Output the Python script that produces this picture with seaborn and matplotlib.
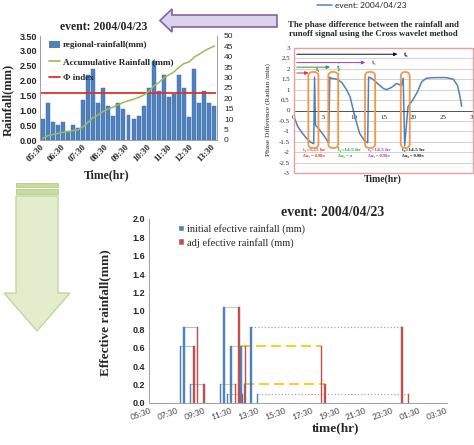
import numpy as np
import matplotlib
matplotlib.use("Agg")
import matplotlib.pyplot as plt
import seaborn as sns
from matplotlib.patches import Polygon, Rectangle, FancyBboxPatch, Patch
from matplotlib.lines import Line2D

sns.set_theme(style="white")
plt.rcParams['font.family'] = ['DejaVu Sans']

SERIF = ['Liberation Serif', 'DejaVu Serif']
SANS = ['Liberation Sans', 'DejaVu Sans']
CAL = ['Lato', 'DejaVu Sans']

# ---- data: regional rainfall (top left) ----
rain = [0.72, 1.25, 0.62, 0.52, 0.60, 0.30, 0.52, 0.40, 1.35, 2.18, 2.38, 1.25,
        1.75, 1.13, 0.82, 1.25, 1.03, 0.85, 0.72, 0.82, 1.13, 1.75, 2.65, 1.65,
        2.18, 1.45, 1.55, 2.18, 1.75, 0.78, 2.38, 1.25, 1.65, 1.25, 1.13]
acc_rain = [0.7, 2.0, 2.6, 3.1, 3.7, 4.0, 4.5, 4.9, 6.3, 8.5, 10.8, 12.1, 13.8,
            15.0, 15.8, 17.0, 18.1, 18.9, 19.6, 20.5, 21.6, 23.3, 26.0, 27.6,
            29.8, 31.3, 32.8, 35.0, 36.8, 37.5, 39.9, 41.2, 42.8, 44.1, 45.2]
phi_index = 1.57
top_ticks = ['05:30', '06:30', '07:30', '08:30', '09:30', '10:30', '11:30', '12:30', '13:30']

# ---- data: phase difference (top right) ----
phase_t = [0, 0.6, 1.3, 2.0, 2.7, 3.3, 3.45, 3.6, 4.2, 5.0, 5.8, 6.0, 6.2, 7.2, 8.0,
           8.8, 9.4, 10.2, 11.0, 11.8, 12.35, 12.5, 13.0, 14.0, 15.0, 15.5, 16.3,
           17.2, 18.0, 18.3, 18.55, 19.1, 19.9, 20.7, 21.4, 22.2, 23.5, 25.5, 26.7,
           27.4, 27.8, 28.1]
phase_v = [-0.3, -0.75, -1.05, -1.3, -1.5, -1.6, 1.6, -0.7, -0.9, -1.2, -1.55, 1.6,
           1.55, 1.5, 1.35, 1.0, 0.66, -0.3, -1.1, -1.45, -1.55, 1.6, 1.55, 1.3,
           1.05, 1.0, 1.1, 1.3, 1.2, 1.55, -1.7, 0.18, 0.5, 0.9, 1.38, 1.55, 1.58,
           1.58, 1.5, 1.2, 0.7, 0.2]
lag_end = [2.9, 6.5, 12.4, 17.8]          # arrow ends t1..t4
lag_names = ['t\u2081', 't\u2082', 't\u2083', 't\u2084']
lag_text = ['t\u2081=3.25 hr', 't\u2082=14.5 hr', 't\u2083=14.5 hr', 't\u2084=14.5 hr']
dphi_text = ['\u0394\u03c6\u2081 = 0.98\u03c0', '\u0394\u03c6\u2082 = \u03c0',
             '\u0394\u03c6\u2083 = 0.98\u03c0', '\u0394\u03c6\u2084 = 0.98\u03c0']
box_ranges = [(2.4, 4.1), (5.75, 7.4), (11.9, 13.6), (17.9, 19.4)]

# ---- data: effective rainfall (bottom), hours after 05:30 ----
init_t = [2.25, 2.5, 3.0, 5.25, 5.5, 5.75, 6.0, 6.75, 7.0, 7.5, 8.0]
adj_t = [3.25, 3.5, 4.0, 6.35, 6.6, 6.85, 7.1, 12.75, 13.0, 18.75, 19.25]
eff_h = [0.62, 0.83, 0.21, 0.21, 1.04, 0.10, 0.62, 0.62, 0.21, 0.83, 0.10]
link_group = [0, 0, 0, 1, 1, 1, 1, 2, 2, 3, 3]
bottom_ticks = ['05:30', '07:30', '09:30', '11:30', '13:30', '15:30', '17:30',
                '19:30', '21:30', '23:30', '01:30', '03:30']

W, H = 474, 445
fig = plt.figure(figsize=(W / 100, H / 100), dpi=100)


def box(l, t, r, b):
    return [l / W, 1 - b / H, (r - l) / W, (b - t) / H]


def fp(x, y):
    return (x / W, 1 - y / H)


# ================= top left =================
ax1 = fig.add_axes(box(40, 36, 217, 140))
n = len(rain)
sns.barplot(x=np.arange(n), y=rain, color='#4F81BD', saturation=1, width=0.78,
            ax=ax1, edgecolor='#3A6AA5', linewidth=0.3)
ax1.hlines(phi_index, -0.4, n - 0.6, color='#E0302A', lw=1.3, zorder=5)
ax1.set_xlim(-0.5, n - 0.5)
ax1.set_ylim(0, 3.5)
ax1.set_yticks(np.arange(0, 3.51, 0.5))
ax1.set_yticklabels([f'{v:.2f}' for v in np.arange(0, 3.51, 0.5)],
                    fontfamily=SANS, fontweight='bold', fontsize=6.5)
ax1.set_xticks(np.linspace(-0.5, 33.2, 9))
ax1.set_xticklabels(top_ticks, rotation=45, ha='right', rotation_mode='anchor',
                    fontfamily=SERIF, fontweight='bold', fontsize=6.5)
ax1.tick_params(axis='both', length=0, pad=2)
ax1.set_xlabel('')
ax1.set_ylabel('')
ax1b = ax1.twinx()
ax1b.plot(np.arange(n), acc_rain, color='#9BBB59', lw=1.1)
ax1b.set_ylim(0, 50)
ax1b.set_yticks(np.arange(0, 51, 5))
ax1b.set_yticklabels([str(v) for v in range(0, 51, 5)], fontfamily=SANS, fontsize=6)
ax1b.tick_params(axis='y', length=0, pad=5)
for a in (ax1, ax1b):
    a.spines['top'].set_visible(False)
    for s in ('left', 'right', 'bottom'):
        a.spines[s].set_color('#A0A0A0')
        a.spines[s].set_linewidth(0.6)

leg_handles = [Patch(facecolor='#4F81BD', edgecolor='none'),
               Line2D([], [], color='#9BBB59', lw=1.2),
               Line2D([], [], color='#E0302A', lw=1.3)]
ax1.legend(leg_handles, ['regional-rainfall(mm)', 'Accumulative Rainfall (mm)', '\u03a6 index'],
           loc='upper left', bbox_to_anchor=(0.03, 0.99), frameon=False,
           prop=dict(family=SERIF, weight='bold', size=6.6), handlelength=1.2,
           handleheight=0.8, handletextpad=0.3, labelspacing=0.85, borderaxespad=0)
fig.text(*fp(104, 27), 'event: 2004/04/23', ha='center', va='center',
         family=SERIF, weight='bold', fontsize=8.5)
fig.text(*fp(8, 100), 'Rainfall(mm)', rotation=90, ha='center', va='center',
         family=SERIF, weight='bold', fontsize=9)
fig.text(*fp(107, 175), 'Time(hr)', ha='center', va='center',
         family=SERIF, weight='bold', fontsize=8.5)

# ================= top right =================
ax2 = fig.add_axes(box(294, 48, 473, 173))
sns.lineplot(x=phase_t, y=phase_v, ax=ax2, color='#4F81BD', lw=1.1, sort=False,
             estimator=None, label='event: 2004/04/23')
ax2.spines['bottom'].set_position(('data', 0))
ax2.set_xlim(0, 30)
ax2.set_ylim(-3, 3)
yt = np.arange(-3, 3.01, 0.5)
ax2.set_yticks(yt)
ax2.set_yticklabels([f'{v:g}' for v in yt], fontfamily=SERIF, fontsize=5)
ax2.set_xticks(np.arange(0, 31, 5))
ax2.set_xticklabels([str(v) for v in range(0, 31, 5)], fontfamily=SERIF, fontsize=5)
ax2.yaxis.grid(True, color='#BFBFBF', lw=0.5)
ax2.spines['bottom'].set_color('#404040')
ax2.spines['bottom'].set_linewidth(0.6)
for s in ('top', 'left', 'right'):
    ax2.spines[s].set_visible(False)
ax2.tick_params(axis='x', length=2, width=0.5, color='#404040', pad=1)
ax2.tick_params(axis='y', length=0, pad=3)
ax2.add_patch(Rectangle((0, 0), 1, 1, transform=ax2.transAxes, fill=False,
                        edgecolor='#E8A0A0', lw=1.0, clip_on=False, zorder=6))
lag_colors = ['#E03030', '#20A040', '#9040C0', '#111111']
lag_y = [1.8, 2.08, 2.3, 2.7]
for k in range(4):
    ax2.annotate('', xy=(lag_end[k], lag_y[k]), xytext=(0, lag_y[k]),
                 arrowprops=dict(arrowstyle='-|>', color=lag_colors[k], lw=0.7,
                                 mutation_scale=5))
    ax2.text(lag_end[k] + 0.7, lag_y[k] + (0.15 if k == 0 else 0), lag_names[k],
             color=lag_colors[k], fontsize=5, va='center', family=SERIF, weight='bold')
    lo, hi = box_ranges[k]
    ax2.add_patch(FancyBboxPatch((lo, -1.8), hi - lo, 3.65,
                                 boxstyle='round,pad=0,rounding_size=0.75',
                                 mutation_aspect=0.28, fill=False,
                                 edgecolor='#F79646', lw=1.3, zorder=4))
    tx = [1.5, 7.3, 12.4, 18.1][k]
    ax2.text(tx, -1.9, lag_text[k], color=lag_colors[k], fontsize=3.8,
             family=SERIF, weight='bold', va='center')
    ax2.text(tx, -2.2, dphi_text[k], color=lag_colors[k], fontsize=3.2,
             family=SERIF, weight='bold', va='center')
ax2.vlines(7.3, -1.8, 2.3, colors='#20B050', linestyles=':', lw=1.0)
ax2.set_xlabel('')
ax2.set_ylabel('')
ax2.legend(loc='center', bbox_to_anchor=fp(362, 5), bbox_transform=fig.transFigure,
           frameon=False, prop=dict(family=CAL, size=6), handlelength=1.8,
           handletextpad=0.3, borderaxespad=0, borderpad=0)
fig.text(*fp(373, 25), 'The phase difference between the rainfall and',
         ha='center', va='center', family=SERIF, weight='bold', fontsize=6.3)
fig.text(*fp(373, 34.5), 'runoff signal using the Cross wavelet method',
         ha='center', va='center', family=SERIF, weight='bold', fontsize=6.3)
fig.text(*fp(268, 110), 'Phase Difference (Radian /min)', rotation=90,
         ha='center', va='center', family=SERIF, fontsize=5.2)
fig.text(*fp(383, 179), 'Time(hr)', ha='center', va='center',
         family=SERIF, weight='bold', fontsize=7)

# ================= bottom =================
ax3 = fig.add_axes(box(149, 219, 447, 403))
ax3.bar(init_t, eff_h, width=0.1, color='#4F81BD', edgecolor='#4F81BD',
        linewidth=0.3, zorder=3)
ax3.bar(adj_t, eff_h, width=0.1, color='#C0504D', edgecolor='#C0504D',
        linewidth=0.3, zorder=3)
link_style = [('#9DC3E6', '-', 0.8), ('#C3D69B', '-', 0.8),
              ('#FFC000', (0, (6, 3)), 1.2), ('#A6A6A6', ':', 0.9)]
for bt, rt, h, g in zip(init_t, adj_t, eff_h, link_group):
    c, ls, lw = link_style[g]
    ax3.plot([bt, rt], [h, h], color=c, ls=ls, lw=lw, zorder=2)
ax3.set_xlim(-0.1, 22.1)
ax3.set_ylim(0, 2.0)
ax3.set_yticks(np.arange(0, 2.01, 0.2))
ax3.set_yticklabels([f'{v:.1f}' for v in np.arange(0, 2.01, 0.2)],
                    fontfamily=SANS, fontweight='bold', fontsize=6.5)
ax3.set_xticks(np.arange(0, 23, 2))
ax3.set_xticklabels(bottom_ticks, rotation=20, ha='right', rotation_mode='anchor',
                    fontfamily=CAL, fontsize=6, color='#404040')
ax3.tick_params(axis='both', length=0, pad=3)
for s in ('top', 'right'):
    ax3.spines[s].set_visible(False)
for s in ('left', 'bottom'):
    ax3.spines[s].set_color('#A0A0A0')
    ax3.spines[s].set_linewidth(0.7)
ax3.legend([Patch(facecolor='#4F81BD'), Patch(facecolor='#C0504D')],
           ['initial efective rainfall (mm)', 'adj efective rainfall (mm)'],
           loc='upper left', bbox_to_anchor=fp(178, 224), bbox_transform=fig.transFigure,
           frameon=False, prop=dict(family=SERIF, size=7.5), handlelength=0.6,
           handleheight=0.6, handletextpad=0.3, labelspacing=0.35, borderaxespad=0,
           borderpad=0)
fig.text(*fp(333, 212), 'event: 2004/04/23', ha='center', va='center',
         family=SERIF, weight='bold', fontsize=10)
fig.text(*fp(105, 313), 'Effective rainfall(mm)', rotation=90, ha='center',
         va='center', family=SERIF, weight='bold', fontsize=9.5)
fig.text(*fp(336, 428), 'time(hr)', ha='center', va='center',
         family=SERIF, weight='bold', fontsize=9.5)

# ================= block arrows =================
purple = [(160, 20.5), (172, 9), (172, 15), (277, 15), (277, 27), (172, 27), (172, 32)]
fig.add_artist(Polygon([fp(x, y) for x, y in purple], closed=True,
                       facecolor='#DCD2EC', edgecolor='#8064A2', lw=1.2,
                       transform=fig.transFigure))
green = [(16, 196), (58, 196), (58, 293), (70, 293), (37, 331), (4, 293), (16, 293)]
fig.add_artist(Polygon([fp(x, y) for x, y in green], closed=True,
                       facecolor='#E3EDCD', edgecolor='#C3D69B', lw=1.0,
                       transform=fig.transFigure))
for y0, y1 in [(183, 187), (189, 194)]:
    fig.add_artist(Polygon([fp(16, y0), fp(58, y0), fp(58, y1), fp(16, y1)],
                           closed=True, facecolor='#C9DC9F', edgecolor='#B5CB88',
                           lw=0.6, transform=fig.transFigure))

fig.savefig('out.png', dpi=100)
